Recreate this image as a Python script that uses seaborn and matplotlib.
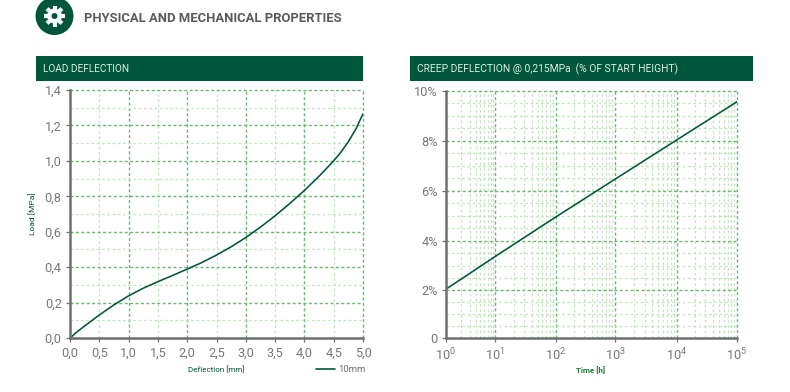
import numpy as np
import pandas as pd
import seaborn as sns
import matplotlib
matplotlib.use("Agg")
import matplotlib.pyplot as plt
from matplotlib.patches import Rectangle, Circle

sns.set_theme(style="white")
plt.rcParams['font.family'] = ['Roboto', 'DejaVu Sans']
plt.rcParams['mathtext.default'] = 'regular'

GREEN = "#00563a"
GRAY = "#707073"
TEXT_GRAY = "#77777a"
GRID_DARK = "#6cb872"
GRID_LIGHT = "#c6e4c2"

# Load deflection
deflection = [0, 0.125, 0.25, 0.5, 0.75, 1.0, 1.25, 1.5, 1.75, 2.0, 2.25, 2.5,
              2.75, 3.0, 3.25, 3.5, 3.75, 4.0, 4.25, 4.5, 4.625, 4.75, 4.875, 5.0]
load = [0, 0.036, 0.068, 0.130, 0.187, 0.238, 0.281, 0.318, 0.353, 0.389, 0.426, 0.468,
        0.515, 0.567, 0.626, 0.690, 0.759, 0.833, 0.913, 1.0, 1.05, 1.108, 1.178, 1.265]
load_yticks = [0, 0.2, 0.4, 0.6, 0.8, 1.0, 1.2, 1.4]
load_yminor = [0.1, 0.3, 0.5, 0.7, 0.9, 1.1, 1.3]
load_ylabels = ["0,0", "0,2", "0,4", "0,6", "0,8", "1,0", "1,2", "1,4"]
load_xticks = [0, 0.5, 1.0, 1.5, 2.0, 2.5, 3.0, 3.5, 4.0, 4.5, 5.0]
load_xlabels = ["0,0", "0,5", "1,0", "1,5", "2,0", "2,5", "3,0", "3,5", "4,0", "4,5", "5,0"]

# Creep deflection
time_h = [1, 10, 100, 1000, 10000, 100000]
creep = [2.05, 3.37, 4.95, 6.46, 8.04, 9.57]
creep_yticks = [0, 2, 4, 6, 8, 10]
creep_yminor = [0.5, 1, 1.5, 2.5, 3, 3.5, 4.5, 5, 5.5, 6.5, 7, 7.5, 8.5, 9, 9.5]
creep_ylabels = ["0", "2%", "4%", "6%", "8%", "10%"]
creep_xlabels = ["$10^{0}$", "$10^{1}$", "$10^{2}$", "$10^{3}$", "$10^{4}$", "$10^{5}$"]
creep_xminor = [m * d for d in time_h[:-1] for m in range(2, 10)]

# the printed axes are not quite even, so map them by hand
decade_pos = [0, 148, 330, 508, 693, 874]
percent_pos = [0, 143, 292, 443, 592, 742]


def x_fwd(v):
    return np.interp(np.log10(np.maximum(v, 1e-9)), range(6), decade_pos)


def x_inv(v):
    return 10 ** np.interp(v, decade_pos, range(6))


def y_fwd(v):
    return np.interp(v, creep_yticks, percent_pos)


def y_inv(v):
    return np.interp(v, percent_pos, creep_yticks)


def style_axes(ax):
    ax.set_axisbelow(True)
    sns.despine(ax=ax)
    for side in ["left", "bottom"]:
        ax.spines[side].set_color(GRAY)
        ax.spines[side].set_linewidth(1.8)
    ax.tick_params(axis="both", which="major", length=3, width=0.9, color=GRAY,
                   labelcolor=TEXT_GRAY, labelsize=9.2, pad=3, left=True, bottom=True)
    ax.tick_params(axis="both", which="minor", length=0)
    ax.grid(True, which="major", color=GRID_DARK, lw=1.0, ls=(0, (2.2, 1.7)))
    ax.grid(True, which="minor", color=GRID_LIGHT, lw=0.9, ls=(0, (2.2, 2.0)))
    for line in ax.get_xgridlines() + ax.get_ygridlines():
        line.set_clip_on(False)


W, H = 790, 392
fig = plt.figure(figsize=(7.9, 3.92), dpi=100)
fig.patch.set_facecolor("white")

# overlay in pixel coordinates for the page furniture
page = fig.add_axes([0, 0, 1, 1], zorder=0)
page.set_xlim(0, W)
page.set_ylim(H, 0)
page.axis("off")
page.add_patch(Rectangle((36, 56), 327, 25, color=GREEN, lw=0))
page.add_patch(Rectangle((410, 56), 343, 25, color=GREEN, lw=0))
page.add_patch(Circle((54.5, 16), 19, color=GREEN, lw=0))
for angle in np.arange(0, 360, 45):
    rad = np.deg2rad(angle)
    page.plot([54.5, 54.5 + 10.5 * np.cos(rad)], [16, 16 + 10.5 * np.sin(rad)],
              color="white", lw=3, solid_capstyle="butt")
page.add_patch(Circle((54.5, 16), 7.5, color="white", lw=0, zorder=3))
page.add_patch(Circle((54.5, 16), 3, color=GREEN, lw=0, zorder=4))

page.text(84, 18.5, "PHYSICAL AND MECHANICAL PROPERTIES", color="#5a5a5e",
          fontsize=9.4, fontweight="bold", va="center")
page.text(43, 69, "LOAD DEFLECTION", color="#d9efe2", fontsize=7.2, va="center")
page.text(417, 69, "CREEP DEFLECTION @ 0,215MPa  (% OF START HEIGHT)", color="#d9efe2",
          fontsize=7.35, va="center")
page.text(32, 214, "Load [MPa]", color=GREEN, fontsize=6, rotation=90, ha="center", va="center")
page.text(216, 369, "Deflection [mm]", color=GREEN, fontsize=5.8, ha="center", va="center")
page.text(591, 370.5, "Time [h]", color="#1d7a35", fontsize=5.8, fontweight="bold", ha="center", va="center")
page.plot([316, 335], [369, 369], color=GREEN, lw=1.2)
page.text(338, 369, "10mm", color=GRAY, fontsize=6.8, va="center")

# left chart
ax1 = fig.add_axes([70 / W, 1 - 338 / H, 293 / W, 248 / H], zorder=1)
ax1.patch.set_alpha(0)
load_df = pd.DataFrame({"deflection": deflection, "load": load})
sns.lineplot(data=load_df, x="deflection", y="load", color=GREEN, lw=1.15, ax=ax1)
ax1.set_xlim(0, 5)
ax1.set_ylim(0, 1.4)
ax1.set_xticks(load_xticks[::2], load_xlabels[::2])
ax1.set_xticks(load_xticks[1::2], load_xlabels[1::2], minor=True)
ax1.set_yticks(load_yticks, load_ylabels)
ax1.set_yticks(load_yminor, minor=True)
ax1.set_xlabel("")
ax1.set_ylabel("")
style_axes(ax1)
ax1.tick_params(axis="x", which="minor", length=3, width=0.9, color=GRAY,
                labelcolor=TEXT_GRAY, labelsize=9.2, pad=3, bottom=True)

# right chart
ax2 = fig.add_axes([446 / W, 1 - 338 / H, 291 / W, 247 / H], zorder=1)
ax2.patch.set_alpha(0)
creep_df = pd.DataFrame({"time": time_h, "creep": creep})
sns.lineplot(data=creep_df, x="time", y="creep", color=GREEN, lw=1.15, ax=ax2)
ax2.set_xscale("function", functions=(x_fwd, x_inv))
ax2.set_yscale("function", functions=(y_fwd, y_inv))
ax2.set_xlim(1, 100000)
ax2.set_ylim(0, 10)
ax2.set_xticks(time_h, creep_xlabels)
ax2.set_xticks(creep_xminor, minor=True)
ax2.set_xticklabels([], minor=True)
ax2.set_yticks(creep_yticks, creep_ylabels)
ax2.set_yticks(creep_yminor, minor=True)
ax2.set_yticklabels([], minor=True)
ax2.set_xlabel("")
ax2.set_ylabel("")
style_axes(ax2)

fig.savefig("out.png", dpi=100)
